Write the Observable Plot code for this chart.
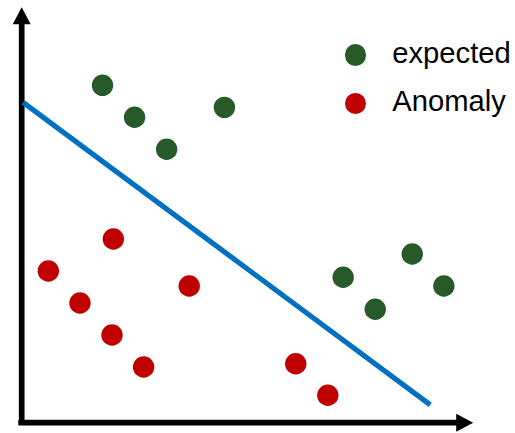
<!DOCTYPE html>
<html>
<head>
<meta charset="utf-8">
<script src="https://cdn.jsdelivr.net/npm/d3@7"></script>
<script src="https://cdn.jsdelivr.net/npm/@observablehq/plot@0.6"></script>
<style>
  html, body { margin: 0; padding: 0; background: #fff; }
  #wrap { position: relative; width: 515px; height: 433px; font-family: "Liberation Sans", Arial, sans-serif; }
  #wrap svg { display: block; }
  .lg-dot { position: absolute; width: 21.4px; height: 21.4px; border-radius: 50%; }
  .lg-txt { position: absolute; font-size: 29.2px; line-height: 29.2px; color: #000; white-space: nowrap; }
</style>
</head>
<body>
<div id="wrap"></div>
<script>
// ---- data (axis units 0..100, origin at the axes corner) ----
const seriesNames = ["expected", "Anomaly"];
const seriesColors = ["#275a28", "#c00000"];

const expectedX = [17.9, 25.0, 32.1, 44.9, 86.5, 71.2, 93.5, 78.3];
const expectedY = [81.2, 73.5, 65.8, 75.9, 40.6, 35.0, 32.9, 27.3];

const anomalyX = [20.3, 5.9, 12.9, 20.0, 27.0, 37.1, 60.7, 67.8];
const anomalyY = [44.2, 36.5, 28.8, 21.1, 13.4, 32.9, 14.2, 6.6];

const boundaryX = [0.3, 90.5];
const boundaryY = [77.1, 4.3];

// ---- build tables ----
const points = [
  ...expectedX.map((x, i) => ({x, y: expectedY[i], series: seriesNames[0]})),
  ...anomalyX.map((x, i) => ({x, y: anomalyY[i], series: seriesNames[1]}))
];
const boundary = boundaryX.map((x, i) => ({x, y: boundaryY[i]}));
const heads = [{x: 100, y: 0, angle: 90}, {x: 0, y: 100, angle: 0}];

const headShape = {
  draw(context, l, r) {
    context.moveTo(0, -l);
    context.lineTo(-r, 0);
    context.lineTo(r, 0);
    context.closePath();
  }
};

const chart = Plot.plot({
  width: 515,
  height: 433,
  marginLeft: 21.2,
  marginRight: 42.3,
  marginTop: 6.7,
  marginBottom: 10.8,
  x: {domain: [0, 100], axis: null},
  y: {domain: [0, 100], axis: null},
  color: {domain: seriesNames, range: seriesColors},
  marks: [
    Plot.ruleY([0], {x1: 0, x2: 97, stroke: "black", strokeWidth: 5.7, strokeLinecap: "square"}),
    Plot.ruleX([0], {y1: 0, y2: 96.5, stroke: "black", strokeWidth: 5.7, strokeLinecap: "square"}),
    Plot.vector(heads, {x: "x", y: "y", rotate: "angle", length: 17, r: 9, anchor: "end",
      shape: headShape, fill: "black", stroke: "none"}),
    Plot.line(boundary, {x: "x", y: "y", stroke: "#0070c0", strokeWidth: 5.2, strokeLinecap: "butt"}),
    Plot.dot(points, {x: "x", y: "y", r: 10.7, fill: "series", stroke: "none"})
  ]
});

const wrap = document.getElementById("wrap");
wrap.appendChild(chart);

// ---- legend ----
const legendTops = [55, 103.3];
seriesNames.forEach((name, i) => {
  const d = document.createElement("div");
  d.className = "lg-dot";
  d.style.background = seriesColors[i];
  d.style.left = (355.8 - 10.7) + "px";
  d.style.top = (legendTops[i] - 10.7) + "px";
  wrap.appendChild(d);
  const t = document.createElement("div");
  t.className = "lg-txt";
  t.textContent = name;
  t.style.left = "392.3px";
  t.style.top = (legendTops[i] + 8.3 - 24.7) + "px";
  wrap.appendChild(t);
});
</script>
</body>
</html>
